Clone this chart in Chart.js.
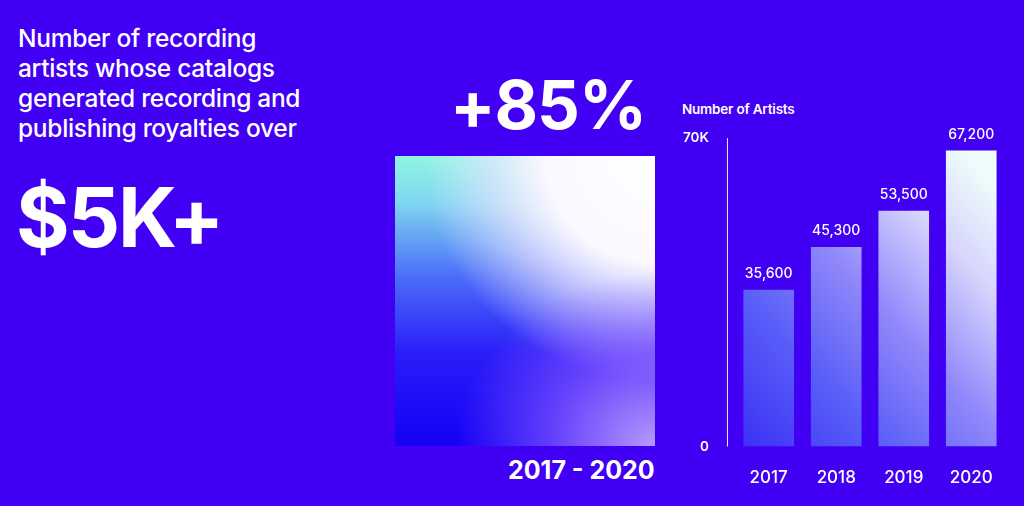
<!DOCTYPE html>
<html>
<head>
<meta charset="utf-8">
<script src="https://cdn.jsdelivr.net/npm/chart.js@4/dist/chart.umd.min.js"></script>
<style>
  html, body { margin: 0; padding: 0; }
  body { width: 1024px; height: 506px; background: #4100f4; position: relative; overflow: hidden; font-family: Inter, Roboto, sans-serif; color: #fff; }
  .lead { position: absolute; left: 18px; top: 23px; font-size: 24.5px; line-height: 30px; font-weight: 500; letter-spacing: -0.3px; }
  .big { position: absolute; left: 16px; top: 168px; font-size: 82px; font-weight: 700; letter-spacing: -2px; }
  .pct { position: absolute; left: 450px; top: 64px; font-size: 67px; font-weight: 700; letter-spacing: -1px; }
  .square { position: absolute; left: 395px; top: 156px; width: 260px; height: 290px;
    background:
      radial-gradient(ellipse 120% 105% at 100% 0%, #ffffff 0%, #fbf8ff 35%, rgba(240,230,255,0.65) 52%, rgba(200,170,255,0) 74%),
      linear-gradient(to bottom, #8ff5e3 0%, #7fd6f0 16%, #4a6cf8 42%, #2a1df8 68%, #1400f5 100%); }
  .square::after { content: ""; position: absolute; inset: 0;
    background: radial-gradient(ellipse 90% 70% at 100% 100%, rgba(200,170,255,0.9) 0%, rgba(150,100,255,0.6) 45%, rgba(120,60,255,0) 85%); }
  .range { position: absolute; left: 508px; top: 455px; font-size: 25px; font-weight: 700; }
  .ctitle { position: absolute; left: 682px; top: 101px; font-size: 13.5px; font-weight: 600; letter-spacing: -0.2px; }
  #wrap { position: absolute; left: 665px; top: 112px; width: 359px; height: 389px; }
</style>
</head>
<body>
<div class="lead">Number of recording<br>artists whose catalogs<br>generated recording and<br>publishing royalties over</div>
<div class="big">$5K+</div>
<div class="pct">+85%</div>
<div class="square"></div>
<div class="range">2017 - 2020</div>
<div class="ctitle">Number of Artists</div>
<div id="wrap"><canvas id="bars"></canvas></div>
<script>
const years = ["2017", "2018", "2019", "2020"];
const artists = [35600, 45300, 53500, 67200];
const artistLabels = ["35,600", "45,300", "53,500", "67,200"];
const yTicks = [0, 70000];
const yTickLabels = ["0", "70K"];

// one gradient across the plot: blue on the left, pale cyan/white on the right
function barFill(ctx) {
  const area = ctx.chart.chartArea;
  if (!area) return "#5a5af8";
  const g = ctx.chart.ctx.createLinearGradient(area.left, area.bottom, area.right, area.top + 60);
  g.addColorStop(0, "#3a2ef6");
  g.addColorStop(0.3, "#5a5ef8");
  g.addColorStop(0.55, "#9088fa");
  g.addColorStop(0.8, "#d6d4fd");
  g.addColorStop(1, "#eefcfa");
  return g;
}

const extras = {
  id: "extras",
  afterDatasetsDraw(chart) {
    const c = chart.ctx, a = chart.chartArea;
    c.save();
    // axis line sits a little left of the first bar slot
    c.strokeStyle = "rgba(255,255,255,0.9)";
    c.lineWidth = 1;
    c.beginPath();
    c.moveTo(a.left - 7.5, a.top);
    c.lineTo(a.left - 7.5, a.bottom);
    c.stroke();
    c.fillStyle = "#ffffff";
    c.font = "500 14px Inter, Roboto, sans-serif";
    c.textAlign = "center";
    c.textBaseline = "bottom";
    chart.getDatasetMeta(0).data.forEach((bar, i) => {
      c.fillText(artistLabels[i], bar.x, bar.y - 9);
    });
    c.restore();
  }
};

new Chart(document.getElementById("bars"), {
  type: "bar",
  data: {
    labels: years,
    datasets: [{ data: artists, backgroundColor: barFill, borderWidth: 0, categoryPercentage: 0.75, barPercentage: 1 }]
  },
  options: {
    responsive: true,
    maintainAspectRatio: false,
    animation: false,
    layout: { padding: { left: 0, right: 19, top: 0, bottom: 0 } },
    plugins: { legend: { display: false }, tooltip: { enabled: false } },
    scales: {
      x: {
        grid: { display: false },
        border: { display: false },
        ticks: { color: "#ffffff", font: { family: "Inter, Roboto, sans-serif", size: 17, weight: "500" }, padding: 13 }
      },
      y: {
        min: 0, max: 70000,
        afterBuildTicks(axis) { axis.ticks = yTicks.map(v => ({ value: v })); },
        grid: { display: false },
        border: { display: false },
        ticks: {
          color: "#ffffff", padding: 18,
          font: { family: "Inter, Roboto, sans-serif", size: 13.5, weight: "600" },
          callback(v) { return yTickLabels[yTicks.indexOf(v)]; }
        }
      }
    }
  },
  plugins: [extras]
});
</script>
</body>
</html>
